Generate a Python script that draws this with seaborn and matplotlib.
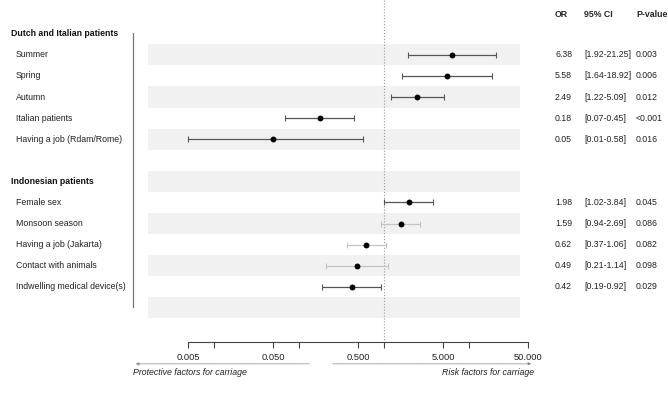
import numpy as np
import pandas as pd
import matplotlib
matplotlib.use("Agg")
import matplotlib.pyplot as plt
import seaborn as sns

# Données
groups = ["Dutch and Italian patients", "Indonesian patients"]
factors = ["Summer", "Spring", "Autumn", "Italian patients", "Having a job (Rdam/Rome)",
           "Female sex", "Monsoon season", "Having a job (Jakarta)", "Contact with animals",
           "Indwelling medical device(s)"]
factor_group = [0, 0, 0, 0, 0, 1, 1, 1, 1, 1]
odds = [6.38, 5.58, 2.49, 0.18, 0.05, 1.98, 1.59, 0.62, 0.49, 0.42]
ci_low = [1.92, 1.64, 1.22, 0.07, 0.005, 1.02, 0.94, 0.37, 0.21, 0.19]
ci_high = [21.25, 18.92, 5.09, 0.45, 0.58, 3.84, 2.69, 1.06, 1.14, 0.92]
or_text = ["6.38", "5.58", "2.49", "0.18", "0.05", "1.98", "1.59", "0.62", "0.49", "0.42"]
ci_text = ["[1.92-21.25]", "[1.64-18.92]", "[1.22-5.09]", "[0.07-0.45]", "[0.01-0.58]",
           "[1.02-3.84]", "[0.94-2.69]", "[0.37-1.06]", "[0.21-1.14]", "[0.19-0.92]"]
p_text = ["0.003", "0.006", "0.012", "<0.001", "0.016",
          "0.045", "0.086", "0.082", "0.098", "0.029"]
tick_vals = [0.005, 0.05, 0.5, 5, 50]
tick_labels = ["0.005", "0.050", "0.500", "5.000", "50.000"]
minor_vals = [0.01, 0.1, 1, 10]

# Construction des lignes : en-tête de groupe, facteurs, ligne vide
rows = []
r = 0
for g, gname in enumerate(groups):
    rows.append({"label": gname, "kind": "header", "row": r})
    r += 1
    for i in range(len(factors)):
        if factor_group[i] == g:
            rows.append({"label": factors[i], "kind": "factor", "row": r, "idx": i})
            r += 1
    rows.append({"label": "", "kind": "blank", "row": r})
    r += 1
layout = pd.DataFrame(rows)
n_rows = r

fdf = layout[layout.kind == "factor"].copy()
fdf["idx"] = fdf["idx"].astype(int)
fdf["OR"] = [odds[i] for i in fdf.idx]
fdf["lo"] = [ci_low[i] for i in fdf.idx]
fdf["hi"] = [ci_high[i] for i in fdf.idx]
fdf["signif"] = (fdf.lo > 1) | (fdf.hi < 1)

sns.set_theme(style="white")
plt.rcParams["font.family"] = ["Liberation Sans", "DejaVu Sans"]
fs = 6.3

fig = plt.figure(figsize=(6.68, 3.94), dpi=100)
ax = fig.add_axes([0, 0, 1, 1])
ax.set_xscale("log")
x0 = 10 ** (-383.6 / 85)
x1 = 10 ** ((668 - 383.6) / 85)
ax.set_xlim(x0, x1)
ax.set_ylim(17.08, -1.6)

# Bandes grises
for rr in range(1, n_rows, 2):
    ax.axhspan(rr - 0.5, rr + 0.5, xmin=148 / 668, xmax=519.5 / 668, color="#f1f1f1", lw=0, zorder=0)

# Ligne de référence OR = 1
ax.vlines(1, -1.6, 14.61, colors="#9a9a9a", linestyles=":", lw=0.8, zorder=1)

# Ligne verticale à gauche
ax.plot([133 / 668, 133 / 668], [-0.03, 12.95], color="#777777", lw=0.9,
        transform=ax.get_yaxis_transform())

# Intervalles de confiance
for sig, col in [(True, "#555555"), (False, "#c4c4c4")]:
    sub = fdf[fdf.signif == sig]
    ax.errorbar(sub.OR, sub.row, xerr=[sub.OR - sub.lo, sub.hi - sub.OR], fmt="none",
                ecolor=col, elinewidth=0.9, capsize=2, capthick=0.8, zorder=2)

sns.scatterplot(data=fdf, x="OR", y="row", color="black", s=18, edgecolor="black",
                linewidth=0, ax=ax, zorder=3, legend=False)

# Étiquettes des lignes
tr = ax.get_yaxis_transform()
for _, row in layout.iterrows():
    if row.kind == "header":
        ax.text(11 / 668, row.row, row.label, transform=tr, fontsize=fs, fontweight="bold",
                va="center", ha="left", color="#111111")
    elif row.kind == "factor":
        ax.text(16 / 668, row.row, row.label, transform=tr, fontsize=fs,
                va="center", ha="left", color="#222222")

# Colonnes OR / IC / p
ax.text(555 / 668, -0.93, "OR", transform=tr, fontsize=fs, fontweight="bold", va="center")
ax.text(584 / 668, -0.93, "95% CI", transform=tr, fontsize=fs, fontweight="bold", va="center")
ax.text(636 / 668, -0.93, "P-value", transform=tr, fontsize=fs, fontweight="bold", va="center")
for _, row in fdf.iterrows():
    i = row.idx
    ax.text(555 / 668, row.row, or_text[i], transform=tr, fontsize=fs, va="center", color="#222222")
    ax.text(584 / 668, row.row, ci_text[i], transform=tr, fontsize=fs, va="center", color="#222222")
    ax.text(636 / 668, row.row, p_text[i], transform=tr, fontsize=fs, va="center", color="#222222")

# Axe des x
for s in ["top", "left", "right"]:
    ax.spines[s].set_visible(False)
ax.spines["bottom"].set_position(("data", 14.61))
ax.spines["bottom"].set_bounds(tick_vals[0], tick_vals[-1])
ax.spines["bottom"].set_color("#444444")
ax.spines["bottom"].set_linewidth(0.8)
ax.set_xticks(tick_vals)
ax.set_xticklabels(tick_labels)
ax.set_xticks(minor_vals, minor=True)
ax.xaxis.set_minor_formatter(matplotlib.ticker.NullFormatter())
ax.tick_params(axis="x", which="both", direction="out", length=4, width=0.8,
               color="#444444", labelsize=fs + 0.4, pad=4, bottom=True, labelcolor="#222222")
ax.set_yticks([])
ax.set_xlabel("")
ax.set_ylabel("")

# Flèches
ax.annotate("", xy=(133 / 668, 15.65), xytext=(312 / 668, 15.65), xycoords=tr, textcoords=tr,
            arrowprops=dict(arrowstyle="-|>", color="#888888", lw=0.6, ls=(0, (1, 1)),
                            mutation_scale=4))
ax.annotate("", xy=(534 / 668, 15.65), xytext=(330 / 668, 15.65), xycoords=tr, textcoords=tr,
            arrowprops=dict(arrowstyle="-|>", color="#888888", lw=0.6, ls=(0, (1, 1)),
                            mutation_scale=4))
ax.text(133 / 668, 16.05, "Protective factors for carriage", transform=tr, fontsize=fs,
        style="italic", va="center", ha="left", color="#222222")
ax.text(534 / 668, 16.05, "Risk factors for carriage", transform=tr, fontsize=fs,
        style="italic", va="center", ha="right", color="#222222")

fig.savefig("out.png", dpi=100)
